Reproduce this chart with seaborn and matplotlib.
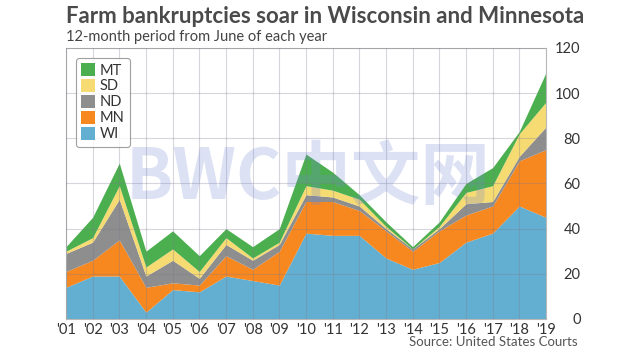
import numpy as np
import pandas as pd
import seaborn as sns
import matplotlib.pyplot as plt

sns.set_theme(style="white")
plt.rcParams['font.family'] = ['Lato', 'DejaVu Sans']

# 12-month periods from June, farm bankruptcy filings
years = list(range(2001, 2020))
WI = [14, 19, 19, 3, 13, 12, 19, 17, 15, 38, 37, 37, 27, 22, 25, 34, 38, 50, 45]
MN = [7, 7, 16, 11, 3, 3, 9, 5, 15, 14, 15, 11, 12, 8, 14, 12, 12, 20, 30]
ND = [8, 8, 18, 5, 10, 3, 5, 4, 3, 3, 2, 2, 1, 1, 1, 5, 2, 2, 10]
SD = [1, 2, 6, 4, 5, 3, 3, 1, 1, 4, 3, 3, 1, 0, 1, 5, 7, 10, 11]
MT = [2, 9, 10, 7, 8, 7, 4, 5, 6, 14, 8, 2, 2, 1, 2, 4, 8, 1, 13]

states = ['WI', 'MN', 'ND', 'SD', 'MT']
colors = {'WI': '#63afd1', 'MN': '#f7871f', 'ND': '#8e8e8e',
          'SD': '#f6da72', 'MT': '#4caf4f'}

df = pd.DataFrame({'year': years, 'WI': WI, 'MN': MN, 'ND': ND, 'SD': SD, 'MT': MT})

fig = plt.figure(figsize=(6.4, 3.6), dpi=100)
ax = fig.add_axes([0.103, 0.114, 0.750, 0.753])

ax.stackplot(df['year'], [df[s] for s in states],
             colors=[colors[s] for s in states], labels=states, linewidth=0)

ax.set_xlim(2001, 2019)
ax.set_ylim(0, 120)
ax.set_xticks(years)
ax.set_xticklabels(["'%02d" % (y % 100) for y in years])
ax.set_yticks(range(0, 121, 20))
ax.yaxis.tick_right()
ax.tick_params(axis='y', length=0, pad=25, labelsize=10.5, labelcolor='#333333')
for lab in ax.get_yticklabels():
    lab.set_horizontalalignment('right')
ax.tick_params(axis='x', length=0, pad=3, labelsize=10.5, labelcolor='#333333')

ax.set_axisbelow(False)
ax.grid(True, color='#7a7a8c', alpha=0.3, linewidth=0.8)
for sp in ax.spines.values():
    sp.set_color('#b8b8b8')
    sp.set_linewidth(0.8)

handles, labels = ax.get_legend_handles_labels()
leg = ax.legend(handles[::-1], labels[::-1], loc='upper left',
                bbox_to_anchor=(0.005, 0.99), fontsize=10.5, frameon=True,
                handlelength=1.0, handleheight=1.0, handletextpad=0.3,
                labelspacing=0.1, borderpad=0.35, fancybox=True)
leg.get_frame().set_edgecolor('#888888')
leg.get_frame().set_linewidth(0.8)
for t in leg.get_texts():
    t.set_color('#333333')

# watermark
fig.text(0.482, 0.505, 'BWC中文网', fontsize=50, color='#7086d4', alpha=0.24,
         ha='center', va='center', fontweight='bold',
         family=['Noto Sans CJK SC', 'DejaVu Sans'], zorder=10)

fig.text(0.103, 0.935, 'Farm bankruptcies soar in Wisconsin and Minnesota',
         fontsize=16, fontweight='bold', color='#4a4a4a', va='baseline')
fig.text(0.103, 0.885, '12-month period from June of each year',
         fontsize=10.5, color='#444444', va='baseline')
fig.text(0.903, 0.04, 'Source: United States Courts', fontsize=9.5,
         color='#555555', ha='right', va='baseline')

fig.savefig('out.png', dpi=100)
